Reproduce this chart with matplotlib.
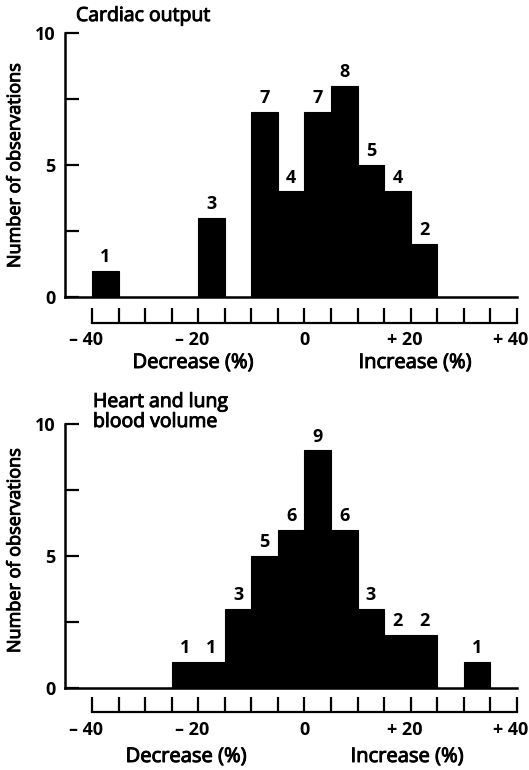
import numpy as np
import matplotlib
matplotlib.use('Agg')
import matplotlib.pyplot as plt
import matplotlib.transforms as mtrans
import matplotlib.patheffects as pe

plt.rcParams['font.family'] = ['Open Sans', 'DejaVu Sans']

# bin edges (percent change), 5 % wide
bin_left = [-40, -35, -30, -25, -20, -15, -10, -5, 0, 5, 10, 15, 20, 25, 30, 35]
cardiac_counts = [1, 0, 0, 0, 3, 0, 7, 4, 7, 8, 5, 4, 2, 0, 0, 0]
blood_counts = [0, 0, 0, 1, 1, 3, 5, 6, 9, 6, 3, 2, 2, 0, 1, 0]
bin_width = 5

ruler_ticks = [-40, -35, -30, -25, -20, -15, -10, -5, 0, 5, 10, 15, 20, 25, 30, 35, 40]
ruler_labels = {-40: '\u2013 40', -20: '\u2013 20', 0: '0', 20: '+ 20', 40: '+ 40'}
yticks = [0, 2.5, 5, 7.5, 10]
ytick_labels = ['0', '', '5', '', '10']

W, H = 529, 770
fig = plt.figure(figsize=(W / 100, H / 100), dpi=100)

x_min, x_max = -45, 41
ax_left = 65.4 / W
ax_width = (522.3 - 65.4) / W

fs_title = 14
fs_axis = 14.5
fs_tick = 13
fs_ylab = 13
# a little extra ink so the regular face looks like the heavier print
heavy = [pe.withStroke(linewidth=0.7, foreground='black')]


def px(y):
    return 1 - y / H


def shift(dx, dy):
    # offset in pixels (figure at 100 dpi)
    return mtrans.ScaledTranslation(dx / 100, -dy / 100, fig.dpi_scale_trans)


def panel(counts, y0_px, y10_px, ruler_px, title_lines, title_x, title_base,
          ylab_y, dec_x, inc_x, tick_base, axis_base):
    ax = fig.add_axes([ax_left, px(y0_px), ax_width, (y0_px - y10_px) / H])
    ax.bar(bin_left, counts, width=bin_width, align='edge',
           color='black', edgecolor='black', linewidth=0.8)
    for xl, c in zip(bin_left, counts):
        if c > 0:
            ax.annotate(str(c), (xl + bin_width / 2, c), xytext=(0, 3.5),
                        textcoords='offset points', ha='center', va='bottom',
                        fontsize=fs_tick, fontweight='bold', clip_on=False)
    ax.set_xlim(x_min, x_max)
    ax.set_ylim(0, 10)
    for s in ['top', 'right']:
        ax.spines[s].set_visible(False)
    ax.spines['left'].set_bounds(0, 10)
    ax.spines['bottom'].set_bounds(x_min, 40)
    ax.spines['left'].set_linewidth(1.8)
    ax.spines['bottom'].set_linewidth(1.8)
    ax.set_xticks([])
    ax.set_yticks(yticks)
    ax.set_yticklabels(ytick_labels, fontsize=fs_tick, fontweight='bold')
    ax.tick_params(axis='y', direction='in', length=10, width=1.6, pad=7)
    fig.text(15 / W, px(ylab_y), 'Number of observations', rotation=90,
             ha='center', va='center', fontsize=fs_ylab, path_effects=heavy)

    # separate ruler under the histogram
    rax = fig.add_axes([ax_left, px(ruler_px), ax_width, 0.02])
    rax.set_xlim(x_min, x_max)
    rax.set_ylim(0, 1)
    for s in ['top', 'right', 'left']:
        rax.spines[s].set_visible(False)
    rax.spines['bottom'].set_bounds(-40, 40)
    rax.spines['bottom'].set_linewidth(1.6)
    rax.set_yticks([])
    rax.set_xticks(ruler_ticks)
    rax.set_xticklabels([])
    rax.tick_params(axis='x', direction='in', length=11, width=1.6)
    trans = mtrans.blended_transform_factory(rax.transData, rax.transAxes)
    for xv, lab in ruler_labels.items():
        dx = -6 if lab[0] in '\u2013+' else 0
        rax.text(xv, 0, lab, transform=trans + shift(dx, tick_base),
                 ha='center', va='baseline', fontsize=fs_tick, fontweight='bold')
    rax.text(dec_x, 0, 'Decrease (%)', transform=trans + shift(0, axis_base),
             ha='center', va='baseline', fontsize=fs_axis, path_effects=heavy)
    rax.text(inc_x, 0, 'Increase (%)', transform=trans + shift(0, axis_base),
             ha='center', va='baseline', fontsize=fs_axis, path_effects=heavy)

    for line, yb in zip(title_lines, title_base):
        fig.text(title_x / W, px(yb), line, ha='left', va='baseline',
                 fontsize=fs_title, path_effects=heavy)
    return ax


panel(cardiac_counts, 297, 33, 323, ['Cardiac output'], 76, [21],
      166, -21, 20.8, 22, 45)
panel(blood_counts, 688, 424, 712, ['Heart and lung', 'blood volume'], 93,
      [407, 427], 551, -22.3, 19.3, 23, 50)

fig.savefig('out.png', dpi=100)
